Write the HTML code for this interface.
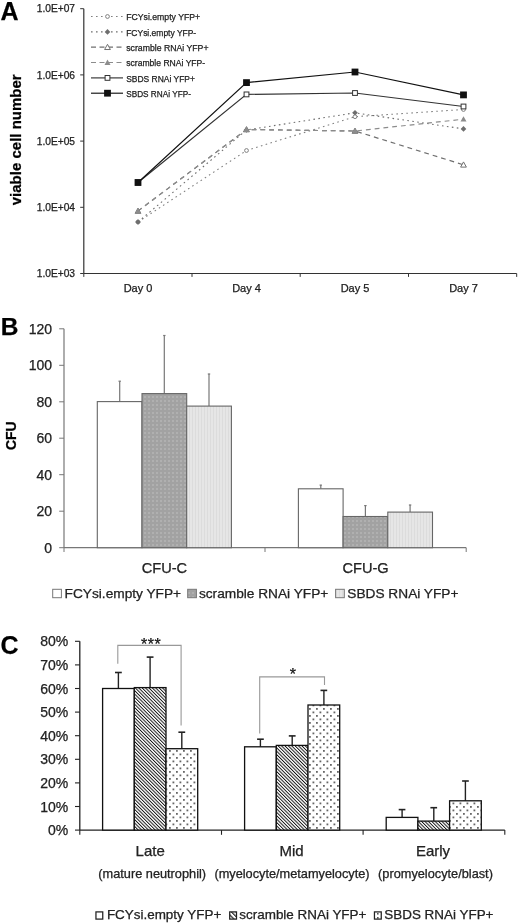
<!DOCTYPE html>
<html><head><meta charset="utf-8"><title>Figure</title>
<style>html,body{margin:0;padding:0;background:#fff;width:520px;height:924px;overflow:hidden}svg{display:block;will-change:transform}text{font-family:'Liberation Sans',sans-serif;stroke:currentColor;stroke-width:0.25px;paint-order:stroke}</style>
</head><body>
<svg width="520" height="924" viewBox="0 0 520 924" style="font-family:'Liberation Sans',sans-serif">
<defs>
<pattern id="pDark" width="4" height="4" patternUnits="userSpaceOnUse"><rect width="4" height="4" fill="#a2a2a2"/><rect x="0" y="0" width="2" height="2" fill="#b0b0b0"/></pattern>
<pattern id="pLight" width="3" height="4" patternUnits="userSpaceOnUse"><rect width="3" height="4" fill="#e6e6e6"/><rect x="0" y="0" width="1" height="4" fill="#dcdcdc"/></pattern>
<pattern id="pHatch" width="2.4" height="2.4" patternUnits="userSpaceOnUse" patternTransform="rotate(-45)"><rect width="2.4" height="2.4" fill="#fff"/><rect width="0.95" height="2.4" fill="#111"/></pattern>
<pattern id="pHatchL" width="3.3" height="3.3" patternUnits="userSpaceOnUse" patternTransform="rotate(-45)"><rect width="3.3" height="3.3" fill="#fff"/><rect width="1.2" height="3.3" fill="#222"/></pattern>
<pattern id="pDotsL" width="4" height="4" patternUnits="userSpaceOnUse"><rect width="4" height="4" fill="#fff"/><rect x="1" y="1" width="1.6" height="1.6" fill="#555"/></pattern>
<pattern id="pDots" width="7" height="7" patternUnits="userSpaceOnUse"><rect width="7" height="7" fill="#fff"/><rect x="1" y="1" width="1.8" height="1.8" fill="#666"/><rect x="4.5" y="4.5" width="1.8" height="1.8" fill="#666"/></pattern>
</defs>
<text x="0.5" y="20.4" font-size="25" font-weight="bold">A</text>
<text x="75" y="12.4" font-size="10.2" text-anchor="end" fill="#222">1.0E+07</text>
<line x1="80.2" y1="8.7" x2="83.8" y2="8.7" stroke="#333" stroke-width="1"/>
<text x="75" y="78.6" font-size="10.2" text-anchor="end" fill="#222">1.0E+06</text>
<line x1="80.2" y1="74.9" x2="83.8" y2="74.9" stroke="#333" stroke-width="1"/>
<text x="75" y="144.8" font-size="10.2" text-anchor="end" fill="#222">1.0E+05</text>
<line x1="80.2" y1="141.1" x2="83.8" y2="141.1" stroke="#333" stroke-width="1"/>
<text x="75" y="211.0" font-size="10.2" text-anchor="end" fill="#222">1.0E+04</text>
<line x1="80.2" y1="207.3" x2="83.8" y2="207.3" stroke="#333" stroke-width="1"/>
<text x="75" y="277.2" font-size="10.2" text-anchor="end" fill="#222">1.0E+03</text>
<line x1="80.2" y1="273.5" x2="83.8" y2="273.5" stroke="#333" stroke-width="1"/>
<line x1="83.8" y1="8.7" x2="83.8" y2="273.5" stroke="#333" stroke-width="1.2"/>
<line x1="83.8" y1="273.5" x2="516.7" y2="273.5" stroke="#333" stroke-width="1.2"/>
<line x1="83.8" y1="273.5" x2="83.8" y2="276.9" stroke="#333" stroke-width="1"/>
<line x1="192.0" y1="273.5" x2="192.0" y2="276.9" stroke="#333" stroke-width="1"/>
<line x1="300.2" y1="273.5" x2="300.2" y2="276.9" stroke="#333" stroke-width="1"/>
<line x1="408.5" y1="273.5" x2="408.5" y2="276.9" stroke="#333" stroke-width="1"/>
<line x1="516.7" y1="273.5" x2="516.7" y2="276.9" stroke="#333" stroke-width="1"/>
<text x="138" y="292.3" font-size="11" text-anchor="middle" fill="#222">Day 0</text>
<text x="246.5" y="292.3" font-size="11" text-anchor="middle" fill="#222">Day 4</text>
<text x="355" y="292.3" font-size="11" text-anchor="middle" fill="#222">Day 5</text>
<text x="463.5" y="292.3" font-size="11" text-anchor="middle" fill="#222">Day 7</text>
<text transform="translate(20.5,139.8) rotate(-90)" font-size="15" font-weight="bold" text-anchor="middle">viable cell number</text>
<polyline points="138,222 246.5,150.5 355,116.7 463.5,109.5" fill="none" stroke="#808080" stroke-width="1.1" stroke-dasharray="1.6,3.4"/>
<polyline points="138,222 246.5,130 355,112.8 463.5,128.9" fill="none" stroke="#6e6e6e" stroke-width="1.1" stroke-dasharray="1.6,3.4"/>
<polyline points="138,211 246.5,129.5 355,131 463.5,164.8" fill="none" stroke="#707070" stroke-width="1.2" stroke-dasharray="4.8,4"/>
<polyline points="138,211 246.5,129.5 355,131 463.5,119.2" fill="none" stroke="#8c8c8c" stroke-width="1.2" stroke-dasharray="4.8,4"/>
<polyline points="138,182.5 246.5,94.4 355,93.0 463.5,106.5" fill="none" stroke="#333" stroke-width="1.15"/>
<polyline points="138,182.5 246.5,82.6 355,72.0 463.5,94.9" fill="none" stroke="#111" stroke-width="1.15"/>
<circle cx="138" cy="222" r="1.9" fill="#fff" stroke="#808080" stroke-width="1"/>
<circle cx="246.5" cy="150.5" r="1.9" fill="#fff" stroke="#808080" stroke-width="1"/>
<circle cx="355" cy="116.7" r="1.9" fill="#fff" stroke="#808080" stroke-width="1"/>
<circle cx="463.5" cy="109.5" r="1.9" fill="#fff" stroke="#808080" stroke-width="1"/>
<polygon points="138,219.2 140.8,222 138,224.8 135.2,222" fill="#6e6e6e"/>
<polygon points="246.5,127.2 249.3,130 246.5,132.8 243.7,130" fill="#6e6e6e"/>
<polygon points="355,110.0 357.8,112.8 355,115.6 352.2,112.8" fill="#6e6e6e"/>
<polygon points="463.5,126.10000000000001 466.3,128.9 463.5,131.70000000000002 460.7,128.9" fill="#6e6e6e"/>
<polygon points="138,208.1 140.9,213.32 135.1,213.32" fill="#fff" stroke="#707070" stroke-width="1"/>
<polygon points="246.5,126.6 249.4,131.82 243.6,131.82" fill="#fff" stroke="#707070" stroke-width="1"/>
<polygon points="355,128.1 357.9,133.32 352.1,133.32" fill="#fff" stroke="#707070" stroke-width="1"/>
<polygon points="463.5,161.9 466.4,167.12 460.6,167.12" fill="#fff" stroke="#707070" stroke-width="1"/>
<polygon points="138,208.0 141.0,213.4 135.0,213.4" fill="#8c8c8c"/>
<polygon points="246.5,126.5 249.5,131.9 243.5,131.9" fill="#8c8c8c"/>
<polygon points="355,128.0 358.0,133.4 352.0,133.4" fill="#8c8c8c"/>
<polygon points="463.5,116.2 466.5,121.60000000000001 460.5,121.60000000000001" fill="#8c8c8c"/>
<rect x="135.6" y="180.1" width="4.8" height="4.8" fill="#fff" stroke="#333" stroke-width="1"/>
<rect x="244.1" y="92.0" width="4.8" height="4.8" fill="#fff" stroke="#333" stroke-width="1"/>
<rect x="352.6" y="90.6" width="4.8" height="4.8" fill="#fff" stroke="#333" stroke-width="1"/>
<rect x="461.1" y="104.1" width="4.8" height="4.8" fill="#fff" stroke="#333" stroke-width="1"/>
<rect x="134.6" y="179.1" width="6.8" height="6.8" fill="#111"/>
<rect x="243.1" y="79.19999999999999" width="6.8" height="6.8" fill="#111"/>
<rect x="351.6" y="68.6" width="6.8" height="6.8" fill="#111"/>
<rect x="460.1" y="91.5" width="6.8" height="6.8" fill="#111"/>
<line x1="91" y1="16.5" x2="123" y2="16.5" stroke="#808080" stroke-width="1.1" stroke-dasharray="1.6,3.4"/>
<circle cx="107.5" cy="16.5" r="1.9" fill="#fff" stroke="#808080" stroke-width="1"/>
<text x="126.2" y="20.3" font-size="9.6" textLength="74" lengthAdjust="spacingAndGlyphs" fill="#222">FCYsi.empty YFP+</text>
<line x1="91" y1="31.9" x2="123" y2="31.9" stroke="#6e6e6e" stroke-width="1.1" stroke-dasharray="1.6,3.4"/>
<polygon points="107.5,29.099999999999998 110.3,31.9 107.5,34.699999999999996 104.7,31.9" fill="#6e6e6e"/>
<text x="126.2" y="35.6" font-size="9.6" textLength="70" lengthAdjust="spacingAndGlyphs" fill="#222">FCYsi.empty YFP-</text>
<line x1="91" y1="47.2" x2="123" y2="47.2" stroke="#707070" stroke-width="1.2" stroke-dasharray="5,3.5"/>
<polygon points="107.5,44.300000000000004 110.4,49.52 104.6,49.52" fill="#fff" stroke="#707070" stroke-width="1"/>
<text x="126.2" y="51.0" font-size="9.6" textLength="82.3" lengthAdjust="spacingAndGlyphs" fill="#222">scramble RNAi YFP+</text>
<line x1="91" y1="62.5" x2="123" y2="62.5" stroke="#8c8c8c" stroke-width="1.2" stroke-dasharray="5,3.5"/>
<polygon points="107.5,59.5 110.5,64.9 104.5,64.9" fill="#8c8c8c"/>
<text x="126.2" y="66.3" font-size="9.6" textLength="79" lengthAdjust="spacingAndGlyphs" fill="#222">scramble RNAi YFP-</text>
<line x1="91" y1="77.9" x2="123" y2="77.9" stroke="#333" stroke-width="1.15"/>
<rect x="105.1" y="75.5" width="4.8" height="4.8" fill="#fff" stroke="#333" stroke-width="1"/>
<text x="126.2" y="81.7" font-size="9.6" textLength="68.7" lengthAdjust="spacingAndGlyphs" fill="#222">SBDS RNAi YFP+</text>
<line x1="91" y1="93.2" x2="123" y2="93.2" stroke="#111" stroke-width="1.15"/>
<rect x="104.1" y="89.8" width="6.8" height="6.8" fill="#111"/>
<text x="126.2" y="97.0" font-size="9.6" textLength="64.7" lengthAdjust="spacingAndGlyphs" fill="#222">SBDS RNAi YFP-</text>
<text x="0.8" y="335.1" font-size="24.5" font-weight="bold">B</text>
<text x="52" y="333.8" font-size="14" text-anchor="end" fill="#222">120</text>
<line x1="59.2" y1="328.8" x2="64" y2="328.8" stroke="#777" stroke-width="1"/>
<text x="52" y="370.3" font-size="14" text-anchor="end" fill="#222">100</text>
<line x1="59.2" y1="365.3" x2="64" y2="365.3" stroke="#777" stroke-width="1"/>
<text x="52" y="406.8" font-size="14" text-anchor="end" fill="#222">80</text>
<line x1="59.2" y1="401.8" x2="64" y2="401.8" stroke="#777" stroke-width="1"/>
<text x="52" y="443.2" font-size="14" text-anchor="end" fill="#222">60</text>
<line x1="59.2" y1="438.2" x2="64" y2="438.2" stroke="#777" stroke-width="1"/>
<text x="52" y="479.7" font-size="14" text-anchor="end" fill="#222">40</text>
<line x1="59.2" y1="474.7" x2="64" y2="474.7" stroke="#777" stroke-width="1"/>
<text x="52" y="516.2" font-size="14" text-anchor="end" fill="#222">20</text>
<line x1="59.2" y1="511.2" x2="64" y2="511.2" stroke="#777" stroke-width="1"/>
<text x="52" y="552.7" font-size="14" text-anchor="end" fill="#222">0</text>
<line x1="59.2" y1="547.7" x2="64" y2="547.7" stroke="#777" stroke-width="1"/>
<line x1="64" y1="328.8" x2="64" y2="547.7" stroke="#777" stroke-width="1.2"/>
<line x1="64" y1="547.7" x2="466.2" y2="547.7" stroke="#777" stroke-width="1.2"/>
<line x1="64" y1="547.7" x2="64" y2="552" stroke="#777" stroke-width="1"/>
<line x1="265" y1="547.7" x2="265" y2="552" stroke="#777" stroke-width="1"/>
<line x1="466.2" y1="547.7" x2="466.2" y2="552" stroke="#777" stroke-width="1"/>
<text transform="translate(15.5,435.7) rotate(-90)" font-size="14" font-weight="bold" text-anchor="middle">CFU</text>
<line x1="119.7" y1="381.2" x2="119.7" y2="401.6" stroke="#777" stroke-width="1.2"/>
<line x1="118.5" y1="381.2" x2="120.9" y2="381.2" stroke="#777" stroke-width="1.2"/>
<rect x="97.3" y="401.6" width="44.7" height="146.1" fill="#fff" stroke="#666" stroke-width="1.1"/>
<line x1="164.3" y1="335.5" x2="164.3" y2="393.6" stroke="#777" stroke-width="1.2"/>
<line x1="163.2" y1="335.5" x2="165.5" y2="335.5" stroke="#777" stroke-width="1.2"/>
<rect x="142.0" y="393.6" width="44.7" height="154.1" fill="url(#pDark)" stroke="#666" stroke-width="1.1"/>
<line x1="209.0" y1="374.0" x2="209.0" y2="406.1" stroke="#777" stroke-width="1.2"/>
<line x1="207.8" y1="374.0" x2="210.2" y2="374.0" stroke="#777" stroke-width="1.2"/>
<rect x="186.7" y="406.1" width="44.7" height="141.6" fill="url(#pLight)" stroke="#666" stroke-width="1.1"/>
<line x1="320.8" y1="485.1" x2="320.8" y2="488.8" stroke="#777" stroke-width="1.2"/>
<line x1="319.6" y1="485.1" x2="321.9" y2="485.1" stroke="#777" stroke-width="1.2"/>
<rect x="298.4" y="488.8" width="44.7" height="58.9" fill="#fff" stroke="#666" stroke-width="1.1"/>
<line x1="365.4" y1="505.6" x2="365.4" y2="516.5" stroke="#777" stroke-width="1.2"/>
<line x1="364.2" y1="505.6" x2="366.6" y2="505.6" stroke="#777" stroke-width="1.2"/>
<rect x="343.1" y="516.5" width="44.7" height="31.2" fill="url(#pDark)" stroke="#666" stroke-width="1.1"/>
<line x1="410.1" y1="505.0" x2="410.1" y2="512.1" stroke="#777" stroke-width="1.2"/>
<line x1="408.9" y1="505.0" x2="411.3" y2="505.0" stroke="#777" stroke-width="1.2"/>
<rect x="387.8" y="512.1" width="44.7" height="35.6" fill="url(#pLight)" stroke="#666" stroke-width="1.1"/>
<text x="164.4" y="573.4" font-size="14.6" text-anchor="middle" fill="#222">CFU-C</text>
<text x="365.6" y="573.4" font-size="14.6" text-anchor="middle" fill="#222">CFU-G</text>
<rect x="52.7" y="589.3" width="8.7" height="8.4" fill="#fff" stroke="#777" stroke-width="1"/>
<text x="64.6" y="597.8" font-size="13.7" fill="#222">FCYsi.empty YFP+</text>
<rect x="187.7" y="589.3" width="8.7" height="8.4" fill="url(#pDark)" stroke="#777" stroke-width="1"/>
<text x="198.9" y="597.8" font-size="13.7" fill="#222">scramble RNAi YFP+</text>
<rect x="335.6" y="589.3" width="8.7" height="8.4" fill="url(#pLight)" stroke="#777" stroke-width="1"/>
<text x="347.3" y="597.8" font-size="13.7" fill="#222">SBDS RNAi YFP+</text>
<text x="0.4" y="654.2" font-size="25" font-weight="bold">C</text>
<text x="68.2" y="646.3" font-size="14" text-anchor="end" fill="#222">80%</text>
<line x1="75" y1="641.3" x2="79.8" y2="641.3" stroke="#222" stroke-width="1.1"/>
<text x="68.2" y="669.9" font-size="14" text-anchor="end" fill="#222">70%</text>
<line x1="75" y1="664.9" x2="79.8" y2="664.9" stroke="#222" stroke-width="1.1"/>
<text x="68.2" y="693.5" font-size="14" text-anchor="end" fill="#222">60%</text>
<line x1="75" y1="688.5" x2="79.8" y2="688.5" stroke="#222" stroke-width="1.1"/>
<text x="68.2" y="717.1" font-size="14" text-anchor="end" fill="#222">50%</text>
<line x1="75" y1="712.1" x2="79.8" y2="712.1" stroke="#222" stroke-width="1.1"/>
<text x="68.2" y="740.7" font-size="14" text-anchor="end" fill="#222">40%</text>
<line x1="75" y1="735.7" x2="79.8" y2="735.7" stroke="#222" stroke-width="1.1"/>
<text x="68.2" y="764.3" font-size="14" text-anchor="end" fill="#222">30%</text>
<line x1="75" y1="759.3" x2="79.8" y2="759.3" stroke="#222" stroke-width="1.1"/>
<text x="68.2" y="787.9" font-size="14" text-anchor="end" fill="#222">20%</text>
<line x1="75" y1="782.9" x2="79.8" y2="782.9" stroke="#222" stroke-width="1.1"/>
<text x="68.2" y="811.5" font-size="14" text-anchor="end" fill="#222">10%</text>
<line x1="75" y1="806.5" x2="79.8" y2="806.5" stroke="#222" stroke-width="1.1"/>
<text x="68.2" y="835.1" font-size="14" text-anchor="end" fill="#222">0%</text>
<line x1="75" y1="830.1" x2="79.8" y2="830.1" stroke="#222" stroke-width="1.1"/>
<line x1="79.8" y1="641.3" x2="79.8" y2="830.1" stroke="#222" stroke-width="1.3"/>
<line x1="79.8" y1="830.1" x2="504.8" y2="830.1" stroke="#222" stroke-width="1.3"/>
<line x1="79.8" y1="830.1" x2="79.8" y2="834.8" stroke="#222" stroke-width="1.1"/>
<line x1="221.5" y1="830.1" x2="221.5" y2="834.8" stroke="#222" stroke-width="1.1"/>
<line x1="363.1" y1="830.1" x2="363.1" y2="834.8" stroke="#222" stroke-width="1.1"/>
<line x1="504.8" y1="830.1" x2="504.8" y2="834.8" stroke="#222" stroke-width="1.1"/>
<line x1="118.4" y1="672.5" x2="118.4" y2="688.5" stroke="#222" stroke-width="1.4"/>
<line x1="115.0" y1="672.5" x2="121.8" y2="672.5" stroke="#222" stroke-width="1.6"/>
<rect x="102.6" y="688.5" width="31.7" height="141.6" fill="#fff" stroke="#111" stroke-width="1.3"/>
<line x1="150.1" y1="657.1" x2="150.1" y2="687.6" stroke="#222" stroke-width="1.4"/>
<line x1="146.7" y1="657.1" x2="153.5" y2="657.1" stroke="#222" stroke-width="1.6"/>
<rect x="134.3" y="687.6" width="31.7" height="142.5" fill="url(#pHatch)" stroke="#111" stroke-width="1.3"/>
<line x1="181.8" y1="732.2" x2="181.8" y2="748.7" stroke="#222" stroke-width="1.4"/>
<line x1="178.4" y1="732.2" x2="185.2" y2="732.2" stroke="#222" stroke-width="1.6"/>
<rect x="166.0" y="748.7" width="31.7" height="81.4" fill="url(#pDots)" stroke="#111" stroke-width="1.3"/>
<line x1="260.4" y1="739.2" x2="260.4" y2="746.8" stroke="#222" stroke-width="1.4"/>
<line x1="257.1" y1="739.2" x2="263.8" y2="739.2" stroke="#222" stroke-width="1.6"/>
<rect x="244.6" y="746.8" width="31.7" height="83.3" fill="#fff" stroke="#111" stroke-width="1.3"/>
<line x1="292.2" y1="735.9" x2="292.2" y2="745.4" stroke="#222" stroke-width="1.4"/>
<line x1="288.8" y1="735.9" x2="295.6" y2="735.9" stroke="#222" stroke-width="1.6"/>
<rect x="276.3" y="745.4" width="31.7" height="84.7" fill="url(#pHatch)" stroke="#111" stroke-width="1.3"/>
<line x1="323.9" y1="690.4" x2="323.9" y2="705.0" stroke="#222" stroke-width="1.4"/>
<line x1="320.5" y1="690.4" x2="327.2" y2="690.4" stroke="#222" stroke-width="1.6"/>
<rect x="308.0" y="705.0" width="31.7" height="125.1" fill="url(#pDots)" stroke="#111" stroke-width="1.3"/>
<line x1="402.1" y1="809.6" x2="402.1" y2="817.4" stroke="#222" stroke-width="1.4"/>
<line x1="398.7" y1="809.6" x2="405.4" y2="809.6" stroke="#222" stroke-width="1.6"/>
<rect x="386.2" y="817.4" width="31.7" height="12.7" fill="#fff" stroke="#111" stroke-width="1.3"/>
<line x1="433.8" y1="807.7" x2="433.8" y2="821.1" stroke="#222" stroke-width="1.4"/>
<line x1="430.4" y1="807.7" x2="437.1" y2="807.7" stroke="#222" stroke-width="1.6"/>
<rect x="417.9" y="821.1" width="31.7" height="9.0" fill="url(#pHatch)" stroke="#111" stroke-width="1.3"/>
<line x1="465.4" y1="781.0" x2="465.4" y2="800.8" stroke="#222" stroke-width="1.4"/>
<line x1="462.1" y1="781.0" x2="468.8" y2="781.0" stroke="#222" stroke-width="1.6"/>
<rect x="449.6" y="800.8" width="31.7" height="29.3" fill="url(#pDots)" stroke="#111" stroke-width="1.3"/>
<polyline points="117.8,663.7 117.8,645.4 181.1,645.4 181.1,725.4" fill="none" stroke="#999" stroke-width="1.1"/>
<text x="144.2" y="649.6" font-size="16" text-anchor="middle" fill="#111" stroke="#111" stroke-width="0.25">*</text>
<text x="150.85" y="649.6" font-size="16" text-anchor="middle" fill="#111" stroke="#111" stroke-width="0.25">*</text>
<text x="157.5" y="649.6" font-size="16" text-anchor="middle" fill="#111" stroke="#111" stroke-width="0.25">*</text>
<polyline points="259.7,733.5 259.7,676.9 324.5,676.9 324.5,685" fill="none" stroke="#999" stroke-width="1.1"/>
<text x="292.8" y="680.4" font-size="16" text-anchor="middle" fill="#111" stroke="#111" stroke-width="0.25">*</text>
<text x="150.2" y="856" font-size="15" text-anchor="middle" fill="#222">Late</text>
<text x="152.2" y="877.5" font-size="12.75" text-anchor="middle" fill="#222">(mature neutrophil)</text>
<text x="291.5" y="856" font-size="15" text-anchor="middle" fill="#222">Mid</text>
<text x="292" y="877.5" font-size="12.75" text-anchor="middle" fill="#222">(myelocyte/metamyelocyte)</text>
<text x="433" y="856" font-size="15" text-anchor="middle" fill="#222">Early</text>
<text x="435.5" y="877.5" font-size="12.75" text-anchor="middle" fill="#222">(promyelocyte/blast)</text>
<rect x="95.95" y="911.9" width="6.8" height="7.2" fill="#fff" stroke="#222" stroke-width="1.25"/>
<text x="106.9" y="918.9" font-size="13.45" fill="#222">FCYsi.empty YFP+</text>
<rect x="229.70" y="911.9" width="6.8" height="7.2" fill="url(#pHatchL)" stroke="#222" stroke-width="1.25"/>
<text x="239.3" y="918.9" font-size="13.45" fill="#222">scramble RNAi YFP+</text>
<rect x="374.45" y="911.9" width="6.8" height="7.2" fill="url(#pDotsL)" stroke="#222" stroke-width="1.25"/>
<text x="384.3" y="918.9" font-size="13.45" fill="#222">SBDS RNAi YFP+</text>
</svg>
</body></html>
